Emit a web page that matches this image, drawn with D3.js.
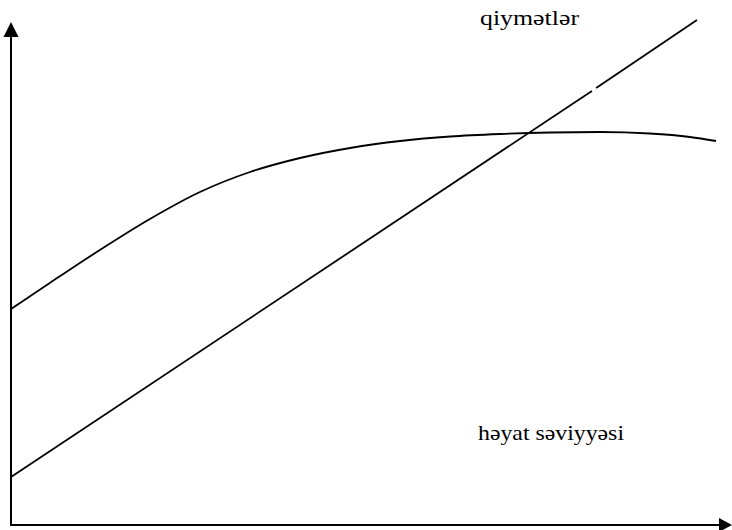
<!DOCTYPE html>
<html>
<head>
<meta charset="utf-8">
<script src="https://cdn.jsdelivr.net/npm/d3@7"></script>
<style>
  html, body { margin: 0; padding: 0; background: #fff; }
  svg { display: block; }
  .lbl { font-family: "Liberation Serif", "Times New Roman", serif; }
</style>
</head>
<body>
<svg id="chart" width="732" height="530"></svg>
<script>
// Price line (qiymətlər) — straight line, drawn in two pieces (small gap near the top)
const priceSegA = [ {x: 0, y: 9.6}, {x: 82.4, y: 86.8} ];
const priceSegB = [ {x: 83.0, y: 87.4}, {x: 97.3, y: 101.0} ];

// Living standard curve (həyat səviyyəsi)
const livingX = [0, 5.5, 12.6, 19.7, 26.8, 33.9, 41.0, 48.1, 55.2, 62.3, 69.4, 76.5, 83.6, 90.6, 96.3, 100];
const livingY = [43.2, 48.4, 55.0, 61.2, 66.6, 70.6, 73.4, 75.4, 76.8, 77.7, 78.2, 78.5, 78.6, 78.3, 77.6, 76.8];

const labels = ["qiymətlər", "həyat səviyyəsi"];

const svg = d3.select("#chart");
const x = d3.scaleLinear().domain([0, 100]).range([11, 716]);
const y = d3.scaleLinear().domain([0, 100]).range([525, 25]);

// Axes
svg.append("line")
  .attr("x1", x(0)).attr("y1", y(0))
  .attr("x2", x(0)).attr("y2", 36)
  .attr("stroke", "#000").attr("stroke-width", 2);
svg.append("path")
  .attr("d", `M${x(0)},22 L${x(0) - 7.5},37 L${x(0) + 7.5},37 Z`)
  .attr("fill", "#000");
svg.append("line")
  .attr("x1", x(0) - 1).attr("y1", y(0))
  .attr("x2", 721).attr("y2", y(0))
  .attr("stroke", "#000").attr("stroke-width", 2);
svg.append("path")
  .attr("d", `M732,${y(0)} L719,${y(0) - 7} L719,${y(0) + 7} Z`)
  .attr("fill", "#000");

const line = d3.line().x(d => x(d.x)).y(d => y(d.y));

[priceSegA, priceSegB].forEach(seg => {
  svg.append("path")
    .datum(seg)
    .attr("d", line)
    .attr("fill", "none")
    .attr("stroke", "#000")
    .attr("stroke-width", 1.8);
});

const living = livingX.map((v, i) => ({x: v, y: livingY[i]}));
svg.append("path")
  .datum(living)
  .attr("d", d3.line().x(d => x(d.x)).y(d => y(d.y)).curve(d3.curveMonotoneX))
  .attr("fill", "none")
  .attr("stroke", "#000")
  .attr("stroke-width", 1.8);

svg.append("text")
  .attr("class", "lbl")
  .attr("x", 480).attr("y", 25)
  .attr("font-size", 21)
  .attr("textLength", 99)
  .attr("lengthAdjust", "spacingAndGlyphs")
  .attr("fill", "#000")
  .text(labels[0]);
svg.append("text")
  .attr("class", "lbl")
  .attr("x", 478).attr("y", 440)
  .attr("font-size", 21)
  .attr("textLength", 146)
  .attr("lengthAdjust", "spacingAndGlyphs")
  .attr("fill", "#000")
  .text(labels[1]);
</script>
</body>
</html>
